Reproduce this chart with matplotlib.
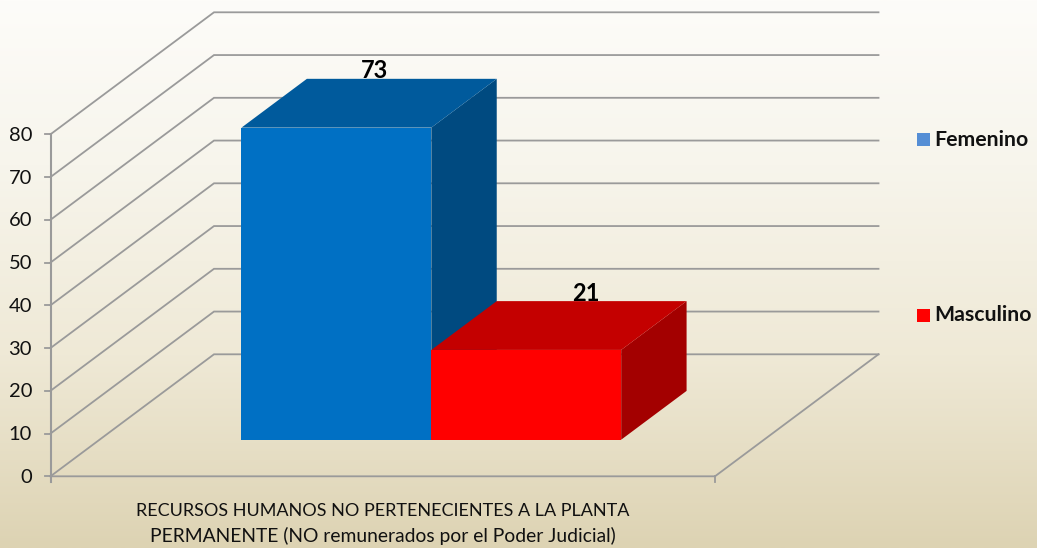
import numpy as np
import matplotlib.pyplot as plt
from matplotlib.colors import LinearSegmentedColormap

series = ["Femenino", "Masculino"]
values = [73, 21]
y_ticks = [0, 10, 20, 30, 40, 50, 60, 70, 80]
category_lines = ["RECURSOS HUMANOS NO PERTENECIENTES A LA PLANTA",
                  "PERMANENTE (NO remunerados por el Poder Judicial)"]
front_colors = ["#0070C4", "#FF0000"]
top_colors = ["#005A9C", "#C40000"]
side_colors = ["#004A80", "#A30000"]
legend_colors = ["#558ED5", "#FF0000"]
label_shift = [-27, -6]

plt.rcParams['font.family'] = ['Lato', 'DejaVu Sans']

# 3d frame, all in pixels of the picture
x0, y0 = 50.5, 476.3
floor_w = 664.5
unit_h = 342 / 80
depth_x, depth_y = 163.5, -122
grid_col = "#9A9A9A"

def proj(x, val, d):
    # x along floor (0-1), val in chart units, d depth (0-1)
    return x0 + x * floor_w + d * depth_x, y0 - val * unit_h + d * depth_y

fig = plt.figure(figsize=(10.37, 5.48), dpi=100)
ax = fig.add_axes([0, 0, 1, 1])
ax.set_xlim(0, 1037)
ax.set_ylim(548, 0)
ax.axis("off")

cmap = LinearSegmentedColormap.from_list("bg", [(0, "#FDFCF9"), (0.3, "#F7F5EC"), (0.65, "#EFE9D6"), (1, "#DDD3B3")])
grad = np.linspace(0, 1, 256).reshape(-1, 1)
ax.imshow(grad, extent=[0, 1037, 548, 0], aspect="auto", cmap=cmap, zorder=0)

# gridlines on side wall and back wall
for v in y_ticks:
    xa, ya = proj(0, v, 0)
    xb, yb = proj(0, v, 1)
    xc, yc = proj(1, v, 1)
    ax.plot([xa, xb, xc], [ya, yb, yc], color=grid_col, lw=1.3, zorder=1, solid_joinstyle="miter")
    ax.plot([xa - 6, xa], [ya, ya], color=grid_col, lw=1.3, zorder=1)
    ax.text(x0 - 18.5, ya + 1, str(v), ha="right", va="center", fontsize=14.5, color="#111111", zorder=5)

# floor and axis
xa, ya = proj(0, 0, 0)
xb, yb = proj(1, 0, 0)
xc, yc = proj(1, 0, 1)
ax.plot([xa, xb, xc], [ya, yb, yc], color=grid_col, lw=1.3, zorder=1)
ax.plot([xb, xb], [yb, yb + 6], color=grid_col, lw=1.3, zorder=1)
xt, yt = proj(0, 80, 0)
ax.plot([xa, xa], [yt, ya + 6], color=grid_col, lw=1.5, zorder=1)

# bars
bar_w = 0.2857
bar_start = 0.2136
for i in range(len(values)):
    left = bar_start + i * bar_w
    right = left + bar_w
    v = values[i]
    d1, d2 = 0.3, 0.7
    front = [proj(left, 0, d1), proj(right, 0, d1), proj(right, v, d1), proj(left, v, d1)]
    top = [proj(left, v, d1), proj(right, v, d1), proj(right, v, d2), proj(left, v, d2)]
    side = [proj(right, 0, d1), proj(right, 0, d2), proj(right, v, d2), proj(right, v, d1)]
    for pts, c, z in [(side, side_colors[i], 2), (top, top_colors[i], 2), (front, front_colors[i], 3)]:
        ax.fill(*zip(*pts), color=c, lw=0, zorder=z + i * 0.1)
    lx, ly = proj((left + right) / 2, v, 0.7)
    ax.text(lx + label_shift[i], ly - 8, str(v), ha="center", va="center", fontsize=17, fontweight="bold", color="black", zorder=6)

# legend
leg_y = [139.5, 315]
for name, c, ly in zip(series, legend_colors, leg_y):
    ax.fill([917, 930, 930, 917], [ly - 6.5, ly - 6.5, ly + 6.5, ly + 6.5], color=c, lw=0, zorder=5)
    ax.text(934, ly, name, ha="left", va="center", fontsize=15.3, fontweight="bold", color="#111111", zorder=5)

ax.text(382.5, 511, category_lines[0], ha="center", va="center", fontsize=13, color="#111111", zorder=5)
ax.text(382.5, 536, category_lines[1], ha="center", va="center", fontsize=13.9, color="#111111", zorder=5)

fig.savefig("out.png", dpi=100)
